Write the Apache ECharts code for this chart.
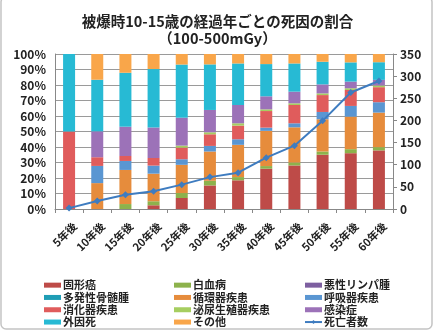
<!DOCTYPE html>
<html><head><meta charset="utf-8">
<script src="https://cdn.jsdelivr.net/npm/echarts@6/dist/echarts.min.js"></script>
<style>html,body{margin:0;padding:0;background:#fff}#c{width:435px;height:332px}</style>
</head><body><div id="c"></div>
<script>
const categories = ['5年後','10年後','15年後','20年後','25年後','30年後','35年後','40年後','45年後','50年後','55年後','60年後'];
const solidCancer   = [0, 0, 0, 2.4, 7.1, 15.2, 18.5, 26.0, 28.1, 35.0, 36.0, 37.8];
const leukemia      = [0, 0, 3.2, 2.6, 3.2, 3.0, 2.1, 1.7, 1.9, 2.1, 2.6, 2.1];
const lymphoma      = [0, 0, 0, 0, 0, 0, 0, 0, 0, 0, 0, 0];
const myeloma       = [0, 0, 0, 0, 0, 0, 0, 0, 0, 0, 0, 0];
const circulatory   = [0, 16.7, 22.0, 17.8, 18.2, 18.9, 20.8, 22.7, 22.7, 20.8, 21.0, 22.3];
const respiratory   = [0, 11.1, 5.8, 5.2, 3.6, 3.6, 3.6, 2.1, 2.6, 4.7, 6.9, 6.7];
const digestive     = [50, 5.6, 3.2, 4.9, 7.5, 7.5, 8.8, 10.7, 11.8, 10.9, 10.3, 9.7];
const urogenital    = [0, 0, 0, 0, 1.3, 1.3, 1.5, 1.1, 1.1, 1.1, 1.1, 1.1];
const infection     = [0, 16.7, 18.9, 19.7, 18.0, 14.4, 11.8, 8.4, 7.5, 5.8, 4.3, 3.6];
const external      = [50, 33.3, 34.8, 37.7, 34.3, 29.4, 26.8, 20.8, 18.2, 14.6, 12.4, 11.4];
const other         = [0, 16.6, 12.1, 9.7, 6.8, 6.7, 6.1, 6.5, 6.1, 5.0, 5.4, 5.3];
const deaths        = [2, 18, 32, 40, 55, 72, 82, 116, 143, 199, 263, 289];
const leftTicks = ['0%','10%','20%','30%','40%','50%','60%','70%','80%','90%','100%'];

const barDefs = [
  ['固形癌', solidCancer, '#BE4B48'],
  ['白血病', leukemia, '#8DB24C'],
  ['悪性リンパ腫', lymphoma, '#7D5FA0'],
  ['多発性骨髄腫', myeloma, '#1F9DB5'],
  ['循環器疾患', circulatory, '#E68C3C'],
  ['呼吸器疾患', respiratory, '#5A96D2'],
  ['消化器疾患', digestive, '#E05C5C'],
  ['泌尿生殖器疾患', urogenital, '#A6CE60'],
  ['感染症', infection, '#9C72B8'],
  ['外因死', external, '#27BAD4'],
  ['その他', other, '#F9A64A']
];
const FONT = '"Noto Sans CJK JP", sans-serif';
const series = barDefs.map(d => ({
  name: d[0], type: 'bar', stack: 'a', data: d[1], barWidth: 12,
  itemStyle: {color: d[2]}, yAxisIndex: 0
}));
series.push({
  name: '死亡者数', type: 'line', yAxisIndex: 1, data: deaths,
  symbol: 'diamond', symbolSize: 7,
  lineStyle: {color: '#3E7CC0', width: 2}, itemStyle: {color: '#3E7CC0'}
});
const legendCommon = {
  orient: 'vertical', itemWidth: 17, itemHeight: 5, itemGap: 0, height: 80,
  textStyle: {fontFamily: FONT, fontSize: 11, fontWeight: 'bold', color: '#222', lineHeight: 12.3, padding: [0,0,0,-3]},
  padding: 0
};
const mk = names => names.map(n => n === '死亡者数' ? {name: n} : {name: n, icon: 'rect'});
const chart = echarts.init(document.getElementById('c'));
chart.setOption({
  animation: false,
  title: {
    text: '被爆時10-15歳の経過年ごとの死因の割合\n（100-500mGy）',
    left: 'center', top: 8,
    textStyle: {fontFamily: FONT, fontSize: 14.5, fontWeight: 'bold', color: '#222', lineHeight: 17}
  },
  graphic: [{type: 'rect', shape: {x: 1, y: -3, width: 431, height: 332, r: 5},
    style: {fill: 'none', stroke: '#C4C4C4', lineWidth: 1.5}, silent: true}],
  legend: [
    Object.assign({left: 44, top: 279, data: mk(['固形癌','多発性骨髄腫','消化器疾患','外因死'])}, legendCommon),
    Object.assign({left: 174, top: 279, data: mk(['白血病','循環器疾患','泌尿生殖器疾患','その他'])}, legendCommon),
    Object.assign({left: 304, top: 279, data: mk(['悪性リンパ腫','呼吸器疾患','感染症','死亡者数'])}, legendCommon)
  ],
  grid: {left: 55, right: 42, top: 54, bottom: 123},
  xAxis: {
    type: 'category', data: categories,
    axisLine: {lineStyle: {color: '#888'}},
    axisTick: {show: true, length: 4, lineStyle: {color: '#888'}},
    axisLabel: {rotate: 45, interval: 0, margin: 21, padding: [0, -8, 0, 0], fontFamily: FONT, fontSize: 11, fontWeight: 'bold', color: '#222'}
  },
  yAxis: [
    {type: 'value', min: 0, max: 100, interval: 10,
     axisLine: {show: true, lineStyle: {color: '#888'}},
     axisTick: {show: false},
     splitLine: {lineStyle: {color: '#9a9a9a', width: 1}},
     axisLabel: {formatter: v => leftTicks[Math.round(v/10)], margin: 9, fontFamily: FONT, fontSize: 12, fontWeight: 'bold', color: '#222'}},
    {type: 'value', min: 0, max: 350, interval: 50,
     axisLine: {show: true, lineStyle: {color: '#888'}},
     axisTick: {show: true, length: 4, lineStyle: {color: '#888'}},
     splitLine: {show: false},
     axisLabel: {margin: 7, fontFamily: FONT, fontSize: 12, fontWeight: 'bold', color: '#222'}}
  ],
  series: series
});
</script></body></html>
